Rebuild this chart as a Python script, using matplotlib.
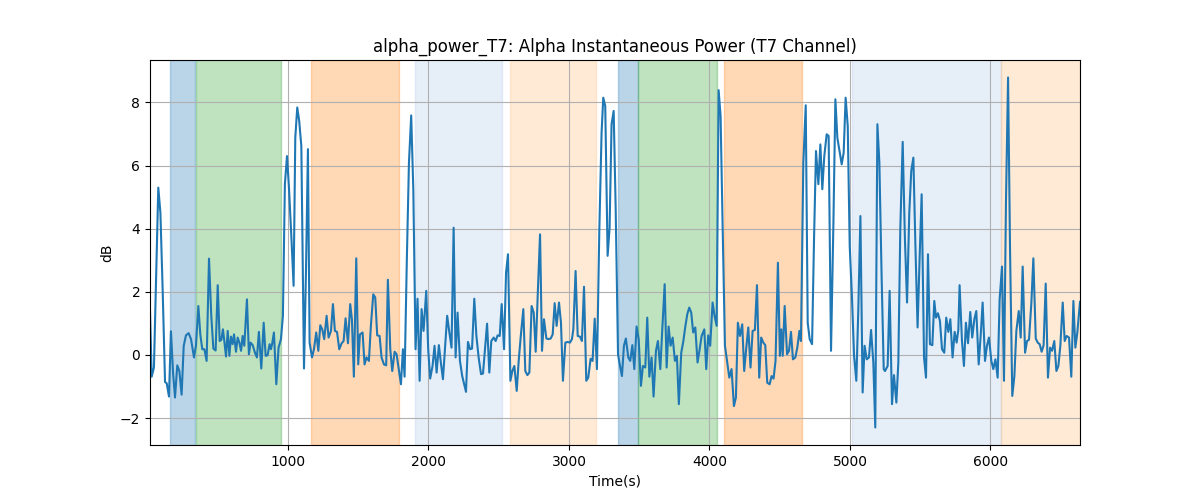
import numpy as np
import matplotlib
matplotlib.use("Agg")
import matplotlib.pyplot as plt

# time stamps (s) and alpha power (dB)
t_sec = [
    18, 30, 46, 77, 92, 108, 125, 137, 153, 167, 182, 196, 212, 227, 243, 258, 274, 293, 310, 331,
    345, 362, 376, 390, 405, 421, 438, 454, 469, 485, 500, 514, 526, 537, 547, 559, 571, 583, 594, 606,
    616, 630, 642, 654, 666, 677, 689, 708, 722, 734, 749, 765, 779, 793, 810, 827, 841, 855, 869, 879,
    888, 900, 917, 933, 950, 964, 978, 993, 1007, 1026, 1040, 1052, 1066, 1080, 1095, 1114, 1128, 1142, 1154, 1171,
    1185, 1201, 1216, 1230, 1244, 1258, 1275, 1289, 1306, 1320, 1334, 1349, 1365, 1382, 1396, 1410, 1427, 1443, 1455, 1469,
    1486, 1500, 1512, 1531, 1545, 1559, 1576, 1590, 1607, 1621, 1635, 1652, 1666, 1683, 1699, 1711, 1728, 1742, 1759, 1773,
    1790, 1804, 1818, 1830, 1846, 1861, 1877, 1892, 1908, 1922, 1937, 1951, 1965, 1984, 1998, 2012, 2029, 2043, 2058, 2074,
    2088, 2103, 2119, 2133, 2148, 2164, 2179, 2193, 2207, 2224, 2240, 2259, 2267, 2281, 2296, 2310, 2326, 2341, 2357, 2374,
    2388, 2402, 2417, 2433, 2447, 2464, 2478, 2492, 2507, 2521, 2538, 2552, 2566, 2583, 2597, 2611, 2628, 2642, 2658, 2675,
    2689, 2704, 2718, 2734, 2749, 2763, 2779, 2794, 2808, 2822, 2839, 2853, 2870, 2884, 2898, 2912, 2929, 2943, 2957, 2974,
    2991, 3007, 3021, 3031, 3047, 3062, 3078, 3092, 3107, 3123, 3137, 3154, 3168, 3183, 3199, 3216, 3232, 3244, 3258, 3275,
    3289, 3303, 3318, 3332, 3349, 3363, 3377, 3391, 3405, 3422, 3436, 3451, 3465, 3481, 3496, 3512, 3526, 3543, 3557, 3572,
    3588, 3602, 3619, 3633, 3650, 3664, 3681, 3695, 3709, 3723, 3738, 3754, 3768, 3782, 3799, 3813, 3828, 3842, 3856, 3870,
    3884, 3899, 3915, 3930, 3944, 3963, 3977, 3991, 4005, 4022, 4036, 4051, 4065, 4079, 4093, 4110, 4126, 4141, 4157, 4174,
    4188, 4202, 4217, 4233, 4247, 4262, 4276, 4292, 4307, 4323, 4338, 4354, 4368, 4383, 4397, 4411, 4428, 4442, 4456, 4470,
    4487, 4501, 4511, 4521, 4535, 4552, 4566, 4580, 4594, 4611, 4625, 4640, 4651, 4668, 4685, 4699, 4713, 4730, 4744, 4758,
    4775, 4789, 4803, 4817, 4834, 4848, 4865, 4882, 4896, 4910, 4927, 4941, 4955, 4969, 4984, 4998, 5014, 5029, 5045, 5059,
    5074, 5090, 5104, 5119, 5135, 5150, 5166, 5180, 5195, 5209, 5225, 5240, 5249, 5268, 5282, 5299, 5313, 5330, 5344, 5358,
    5375, 5391, 5406, 5422, 5436, 5451, 5465, 5481, 5496, 5510, 5527, 5541, 5555, 5569, 5586, 5600, 5612, 5626, 5640, 5655,
    5671, 5685, 5700, 5714, 5730, 5745, 5759, 5771, 5780, 5797, 5811, 5825, 5840, 5856, 5870, 5885, 5899, 5916, 5930, 5944,
    5961, 5975, 5989, 6006, 6020, 6035, 6051, 6065, 6082, 6096, 6110, 6125, 6139, 6155, 6170, 6184, 6201, 6215, 6229, 6246,
    6260, 6274, 6291, 6305, 6322, 6336, 6350, 6364, 6378, 6393, 6409, 6424, 6438, 6454, 6469, 6483, 6497, 6514, 6528, 6542,
    6559, 6575, 6590, 6604, 6618, 6637,
]
alpha_db = [
    1.40, -0.69, -0.40, 5.30, 4.51, 2.08, -0.86, -0.90, -1.32, 0.75, -0.56, -1.35, -0.33, -0.51, -1.26, 0.29, 0.62, 0.69, 0.50, -0.08,
    0.29, 1.55, 0.65, 0.18, 0.18, -0.19, 3.05, 1.24, 0.20, 0.14, 2.21, 0.44, 0.48, 0.81, 0.44, -0.05, 0.76, -0.03, 0.58, 0.34,
    0.65, 0.10, 0.55, 0.39, 0.13, 0.60, 0.29, 1.76, 0.02, 0.39, 0.31, 0.07, -0.08, 0.73, -0.43, 1.02, -0.03, -0.01, 0.34, 0.18,
    0.37, 0.71, -0.93, 0.23, 0.50, 1.24, 5.41, 6.30, 5.30, 3.56, 2.19, 6.88, 7.84, 7.41, 6.62, -0.43, 2.61, 6.52, 0.39, -0.08,
    0.18, 0.71, 0.13, 0.94, 0.81, 0.50, 1.24, 0.55, 0.76, 1.61, 0.76, 0.73, 0.18, 0.37, 0.44, 1.16, 0.37, 1.61, 1.13, -0.69,
    3.06, -0.30, 0.65, 0.71, -0.30, -0.08, -0.19, 0.92, 1.92, 1.82, 0.62, 0.60, -0.08, -0.30, -0.33, 2.38, 0.18, -0.51, 0.10, 0.02,
    -0.51, -0.93, 0.18, -0.69, 3.03, 6.09, 7.59, 5.25, 0.18, 1.78, -0.82, 1.45, 0.76, 2.03, 0.18, -0.75, -0.35, 0.29, -0.56, 0.31,
    -0.24, -0.77, 0.29, 1.24, 0.73, 0.23, 4.03, -0.08, 1.34, -0.19, -0.67, -1.03, -1.17, 0.41, 0.18, 0.20, 1.78, 0.60, -0.08, -0.61,
    -0.59, 0.18, 0.99, -0.56, 0.44, 0.55, 0.44, 0.62, 0.60, 1.61, 0.18, 2.61, 3.19, -0.82, -0.51, -0.35, -1.14, -0.19, 0.65, 1.45,
    -0.51, -0.64, -0.56, 1.55, 1.34, 0.10, 2.08, 3.82, 0.13, 1.13, 0.52, 0.50, 0.52, 0.65, 1.64, 0.92, 1.66, 1.02, -0.82, 0.39,
    0.41, 0.39, 0.50, 0.81, 2.66, 0.60, 0.58, 0.44, 2.16, -0.82, -0.72, -0.12, -0.19, 1.15, -0.45, 3.98, 7.04, 8.15, 7.89, 3.14,
    4.03, 7.31, 7.73, 4.72, 0.02, -0.35, -0.67, 0.29, 0.52, -0.08, -0.19, 0.31, -0.45, 0.90, 0.50, -0.98, -0.35, -0.40, 1.18, -0.69,
    -0.08, -1.32, 0.13, 0.44, -0.45, 0.81, 2.24, -0.40, 0.90, 0.29, 0.55, -0.19, -0.03, -1.56, 0.07, 0.41, 0.90, 1.29, 1.50, 1.34,
    0.71, 0.87, -0.24, 0.18, 0.60, 0.81, -0.45, 0.62, 0.29, 1.66, 1.24, 0.92, 8.39, 7.57, 4.19, 0.29, -0.24, -0.72, -0.45, -1.62,
    -1.35, 1.02, 0.60, 0.97, -0.51, 0.23, 0.87, -0.40, 0.76, 0.79, 2.21, -0.72, 0.55, 0.39, 0.31, -0.88, -0.93, -0.67, -0.75, -0.19,
    2.92, -0.03, 0.81, -0.03, 1.55, 0.02, 0.13, 0.73, -0.14, -0.08, 0.23, 0.76, 0.44, 6.09, 7.91, 1.02, 0.50, 0.34, 3.66, 6.46,
    5.41, 6.67, 5.25, 6.30, 6.99, 6.94, 0.13, 4.19, 8.10, 6.88, 6.41, 6.04, 6.41, 8.15, 7.25, 3.45, 1.82, -0.03, -0.82, 1.39,
    4.40, -1.19, 0.29, -0.14, -0.08, 0.79, -0.24, -2.30, 7.31, 6.09, 2.50, -0.45, -0.51, -0.35, 2.03, -1.56, -0.64, -1.51, -0.24, 3.98,
    6.75, 3.66, 1.66, 4.51, 5.83, 6.25, 3.56, 0.87, 3.14, 5.09, -0.08, -0.72, 3.19, 0.34, 0.31, 1.71, 1.18, 1.32, 1.08, 0.18,
    0.07, 1.18, 0.73, 1.13, -0.08, 0.73, 0.39, 0.79, 2.21, 0.44, -0.35, 1.02, 0.37, 1.36, 0.55, 1.13, 1.39, -0.30, 0.60, 1.66,
    -0.19, 0.29, 0.55, -0.19, -0.45, -0.14, -0.72, 1.76, 2.80, -0.82, 4.83, 8.79, 3.35, -1.30, -0.67, 0.76, 1.39, 0.55, 2.80, 0.07,
    0.44, 0.48, 1.66, 3.06, 0.52, 0.39, 0.34, 0.10, 0.31, 2.26, -0.72, 0.23, 0.13, 0.44, -0.51, -0.35, 0.29, 1.66, 0.44, 0.60,
    0.55, -0.69, 1.71, 0.23, 0.71, 1.68,
]

# shaded task blocks: start, end, colour
span_start = [160, 343, 1163, 1903, 2580, 3351, 3493, 4103, 5017, 6075]
span_end = [341, 950, 1790, 2521, 3190, 3493, 4051, 4656, 6075, 6637]
span_color = ["C0", "C2", "C1", "#aec7e8", "#ffbb78", "C0", "C2", "C1", "#aec7e8", "#ffbb78"]

fig, ax = plt.subplots(figsize=(12, 5), dpi=100)

for s, e, c in zip(span_start, span_end, span_color):
    ax.axvspan(s, e, color=c, alpha=0.3)

ax.plot(t_sec, alpha_db, color="C0")
ax.set_xlim(t_sec[0], t_sec[-1])
ax.set_title("alpha_power_T7: Alpha Instantaneous Power (T7 Channel)")
ax.set_xlabel("Time(s)")
ax.set_ylabel("dB")
ax.grid(True)

fig.savefig("out.png")
